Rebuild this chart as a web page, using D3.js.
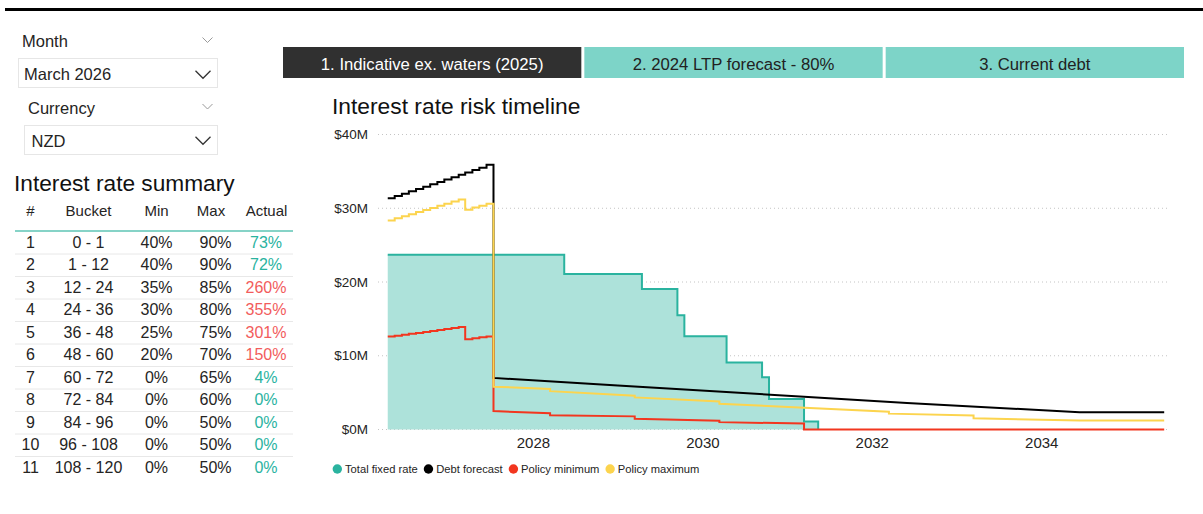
<!DOCTYPE html>
<html>
<head>
<meta charset="utf-8">
<script src="https://cdn.jsdelivr.net/npm/d3@7"></script>
<style>
  body { margin: 0; background: #fff; }
  svg { display: block; font-family: "Liberation Sans", Arial, sans-serif; }
</style>
</head>
<body>
<svg id="page" width="1203" height="514"></svg>
<script>
// ---------- Report tabs and slicers ----------
const tabLabels = ["1. Indicative ex. waters (2025)", "2. 2024 LTP forecast - 80%", "3. Current debt"];
const activeTab = 0;
const monthSelected = "March 2026";
const currencySelected = "NZD";

// ---------- Interest rate summary table ----------
const tableHeaders = ["#", "Bucket", "Min", "Max", "Actual"];
const bucketNo = [1, 2, 3, 4, 5, 6, 7, 8, 9, 10, 11];
const bucketRange = ["0 - 1", "1 - 12", "12 - 24", "24 - 36", "36 - 48", "48 - 60",
                     "60 - 72", "72 - 84", "84 - 96", "96 - 108", "108 - 120"];
const minPct = [40, 40, 35, 30, 25, 20, 0, 0, 0, 0, 0];
const maxPct = [90, 90, 85, 80, 75, 70, 65, 60, 50, 50, 50];
const actualPct = [73, 72, 260, 355, 301, 150, 4, 0, 0, 0, 0];

// ---------- Timeline series ($M) ----------
// Fixed-rate cover: value holds from each date until the next one.
const totalFixedRate = [
  ["2026-04-15", 23.7], ["2028-05-15", 21.1], ["2029-04-15", 19.05], ["2029-09-15", 15.5],
  ["2029-10-15", 12.65], ["2030-04-15", 9.1], ["2030-09-15", 7.1], ["2030-10-15", 4.15],
  ["2031-03-15", 1.1], ["2031-05-15", 0]
];

// Monthly figures for the near term (stepped), ending with the first long-run value.
const debtForecastMonthly = [
  ["2026-04-15", 31.35], ["2026-05-15", 31.65], ["2026-06-15", 31.95], ["2026-07-15", 32.3],
  ["2026-08-15", 32.6], ["2026-09-15", 32.9], ["2026-10-15", 33.25], ["2026-11-15", 33.55],
  ["2026-12-15", 33.9], ["2027-01-15", 34.2], ["2027-02-15", 34.55], ["2027-03-15", 34.85],
  ["2027-04-15", 35.2], ["2027-05-15", 35.5], ["2027-06-15", 35.9], ["2027-07-15", 7.0]
];
const policyMinimumMonthly = [
  ["2026-04-15", 12.6], ["2026-05-15", 12.72], ["2026-06-15", 12.85], ["2026-07-15", 12.98],
  ["2026-08-15", 13.1], ["2026-09-15", 13.23], ["2026-10-15", 13.36], ["2026-11-15", 13.5],
  ["2026-12-15", 13.62], ["2027-01-15", 13.76], ["2027-02-15", 13.9],
  ["2027-03-15", 12.25], ["2027-04-15", 12.37], ["2027-05-15", 12.5], ["2027-06-15", 12.62],
  ["2027-07-15", 2.5]
];
const policyMaximumMonthly = [
  ["2026-04-15", 28.35], ["2026-05-15", 28.65], ["2026-06-15", 28.9], ["2026-07-15", 29.2],
  ["2026-08-15", 29.5], ["2026-09-15", 29.75], ["2026-10-15", 30.05], ["2026-11-15", 30.35],
  ["2026-12-15", 30.6], ["2027-01-15", 30.9], ["2027-02-15", 31.2],
  ["2027-03-15", 29.8], ["2027-04-15", 30.1], ["2027-05-15", 30.35], ["2027-06-15", 30.6],
  ["2027-07-15", 5.8]
];

// Long-run trend (joined straight); a repeated date marks the value before and after a reset.
const debtForecastTrend = [
  ["2027-07-15", 7.0], ["2029-01-01", 5.95], ["2031-03-15", 4.45], ["2032-06-01", 3.6],
  ["2034-06-15", 2.35], ["2035-06-15", 2.35]
];
const policyMinimumTrend = [
  ["2027-07-15", 2.5], ["2028-03-15", 2.2], ["2028-03-15", 1.92], ["2029-03-15", 1.78],
  ["2029-03-15", 1.45], ["2030-03-15", 1.2], ["2030-03-15", 1.0], ["2031-03-15", 0.8],
  ["2031-03-15", 0], ["2035-06-15", 0]
];
const policyMaximumTrend = [
  ["2027-07-15", 5.8], ["2028-03-15", 5.5], ["2028-03-15", 5.2], ["2029-03-15", 4.58],
  ["2029-03-15", 4.35], ["2030-03-15", 3.8], ["2030-03-15", 3.5], ["2032-03-15", 2.42],
  ["2032-03-15", 2.15], ["2033-03-15", 1.9], ["2033-03-15", 1.53], ["2034-06-15", 1.22],
  ["2035-06-15", 1.22]
];

const yTicks = [0, 10, 20, 30, 40];
const legendItems = [
  { name: "Total fixed rate", color: "#2AB39F" },
  { name: "Debt forecast", color: "#000000" },
  { name: "Policy minimum", color: "#F2361F" },
  { name: "Policy maximum", color: "#FCD44E" }
];

// ---------- Page ----------
const svg = d3.select("#page");
const ink = "#252423";
const teal = "#2AB39F";
const warn = "#F25C5C";

// header rule
svg.append("rect").attr("x", 5).attr("y", 8).attr("width", 1198).attr("height", 3).attr("fill", "#000");

// slicers
function chevron(cx, cy, w, h, color, sw) {
  svg.append("path")
    .attr("d", `M${cx - w / 2},${cy - h / 2}L${cx},${cy + h / 2}L${cx + w / 2},${cy - h / 2}`)
    .attr("fill", "none").attr("stroke", color).attr("stroke-width", sw);
}
function slicer(label, lx, ly, value, bx, by, bw, bh, vx, chevY) {
  svg.append("text").attr("x", lx).attr("y", ly).attr("font-size", 16.5).attr("fill", ink).text(label);
  chevron(207.5, ly - 7, 10, 5, "#9a9a9a", 1);
  svg.append("rect").attr("x", bx).attr("y", by).attr("width", bw).attr("height", bh)
    .attr("fill", "#fff").attr("stroke", "#e6e6e6").attr("stroke-width", 1);
  svg.append("text").attr("x", vx).attr("y", by + 21.5).attr("font-size", 16.5).attr("fill", ink).text(value);
  chevron(203, chevY, 15, 7.5, "#333", 1.3);
}
slicer("Month", 22, 47, monthSelected, 18.5, 58.5, 199, 29, 24, 74.5);
slicer("Currency", 28, 113.5, currencySelected, 24.5, 125.5, 193, 29, 31.5, 140.5);

// tabs
const tabX = d3.scaleBand().domain(d3.range(tabLabels.length)).range([283, 1184]).paddingInner(0.01);
tabLabels.forEach((t, i) => {
  svg.append("rect").attr("x", tabX(i)).attr("y", 47).attr("width", tabX.bandwidth()).attr("height", 31)
    .attr("fill", i === activeTab ? "#303030" : "#7DD4C8");
  svg.append("text").attr("x", tabX(i) + tabX.bandwidth() / 2).attr("y", 69.5)
    .attr("text-anchor", "middle").attr("font-size", 16.7)
    .attr("fill", i === activeTab ? "#fff" : "#222").text(t);
});

// ---------- Summary table ----------
svg.append("text").attr("x", 14).attr("y", 191).attr("font-size", 22.7).attr("fill", "#111")
  .text("Interest rate summary");
const colX = [30.5, 88.5, 156.5, 211, 266.5];
const valX = [30.5, 88.5, 156.5, 215.5, 266];
tableHeaders.forEach((h, i) => {
  svg.append("text").attr("x", colX[i]).attr("y", 216).attr("text-anchor", "middle")
    .attr("font-size", 15).attr("fill", ink).text(h);
});
svg.append("line").attr("x1", 15).attr("x2", 293).attr("y1", 231).attr("y2", 231)
  .attr("stroke", "#5EC4B4").attr("stroke-width", 1.6);
const rowY = d3.scaleLinear().domain([0, 10]).range([247.5, 472.5]);
bucketNo.forEach((n, i) => {
  const by = rowY(i);
  const ok = actualPct[i] >= minPct[i] && actualPct[i] <= maxPct[i];
  const cells = [String(n), bucketRange[i], minPct[i] + "%", maxPct[i] + "%", actualPct[i] + "%"];
  cells.forEach((c, j) => {
    svg.append("text").attr("x", valX[j]).attr("y", by).attr("text-anchor", "middle")
      .attr("font-size", 16).attr("fill", j === 4 ? (ok ? teal : warn) : ink).text(c);
  });
  if (i < bucketNo.length - 1) {
    svg.append("line").attr("x1", 15).attr("x2", 293).attr("y1", by + 6.5).attr("y2", by + 6.5)
      .attr("stroke", "#e8e8e8").attr("stroke-width", 1);
  }
});

// ---------- Interest rate risk timeline ----------
svg.append("text").attr("x", 332).attr("y", 114).attr("font-size", 22.8).attr("fill", "#111")
  .text("Interest rate risk timeline");

const parse = d3.timeParse("%Y-%m-%d");
const toPts = arr => arr.map(([d, v]) => ({ date: parse(d), value: v }));

const x = d3.scaleTime().domain([new Date(2026, 2, 4), new Date(2035, 6, 10)]).range([378, 1170]);
const y = d3.scaleLinear().domain([0, 40]).range([429.5, 134.5]);

// gridlines
svg.append("g").selectAll("line").data(yTicks).join("line")
  .attr("x1", 378).attr("x2", 1170)
  .attr("y1", d => y(d)).attr("y2", d => y(d))
  .attr("stroke", "#c4c4c4").attr("stroke-width", 1).attr("stroke-dasharray", "1,3");

// y labels
svg.append("g").selectAll("text").data(yTicks).join("text")
  .attr("x", 368).attr("y", d => y(d)).attr("dy", "0.35em").attr("text-anchor", "end")
  .attr("font-size", 13.5).attr("fill", ink).text(d => `$${d}M`);

// x axis (labels only)
const xAxis = svg.append("g").attr("transform", "translate(0,434)")
  .call(d3.axisBottom(x).ticks(d3.timeYear.every(2)).tickFormat(d3.timeFormat("%Y"))
    .tickSize(0).tickPadding(3.4));
xAxis.select(".domain").remove();
xAxis.selectAll("text").attr("font-size", 15).attr("fill", ink)
  .attr("font-family", "\"Liberation Sans\", Arial, sans-serif");

// fixed-rate area
const fixedPts = toPts(totalFixedRate);
svg.append("path").datum(fixedPts)
  .attr("d", d3.area().curve(d3.curveStepAfter).x(d => x(d.date)).y0(y(0)).y1(d => y(d.value)))
  .attr("fill", "#ADE2DA");
svg.append("path").datum(fixedPts)
  .attr("d", d3.line().curve(d3.curveStepAfter).x(d => x(d.date)).y(d => y(d.value)))
  .attr("fill", "none").attr("stroke", teal).attr("stroke-width", 2);

// lines: stepped monthly section joined to the straight long-run section
const stepLine = d3.line().curve(d3.curveStepAfter).x(d => x(d.date)).y(d => y(d.value));
const trendLine = d3.line().x(d => x(d.date)).y(d => y(d.value));
[
  [debtForecastMonthly, debtForecastTrend, "#000"],
  [policyMinimumMonthly, policyMinimumTrend, "#F2361F"],
  [policyMaximumMonthly, policyMaximumTrend, "#FCD44E"]
].forEach(([monthly, trend, c]) => {
  const d = stepLine(toPts(monthly)) + trendLine(toPts(trend)).replace(/^M/, "L");
  svg.append("path").attr("d", d)
    .attr("fill", "none").attr("stroke", c).attr("stroke-width", 2);
});

// legend
let lx = 332.6;
legendItems.forEach(item => {
  svg.append("circle").attr("cx", lx + 4.7).attr("cy", 469).attr("r", 4.7).attr("fill", item.color);
  const t = svg.append("text").attr("x", lx + 12.4).attr("y", 469).attr("dy", "0.35em")
    .attr("font-size", 11.2).attr("fill", ink).text(item.name);
  lx += 12.4 + t.node().getComputedTextLength() + 6;
});
</script>
</body>
</html>
